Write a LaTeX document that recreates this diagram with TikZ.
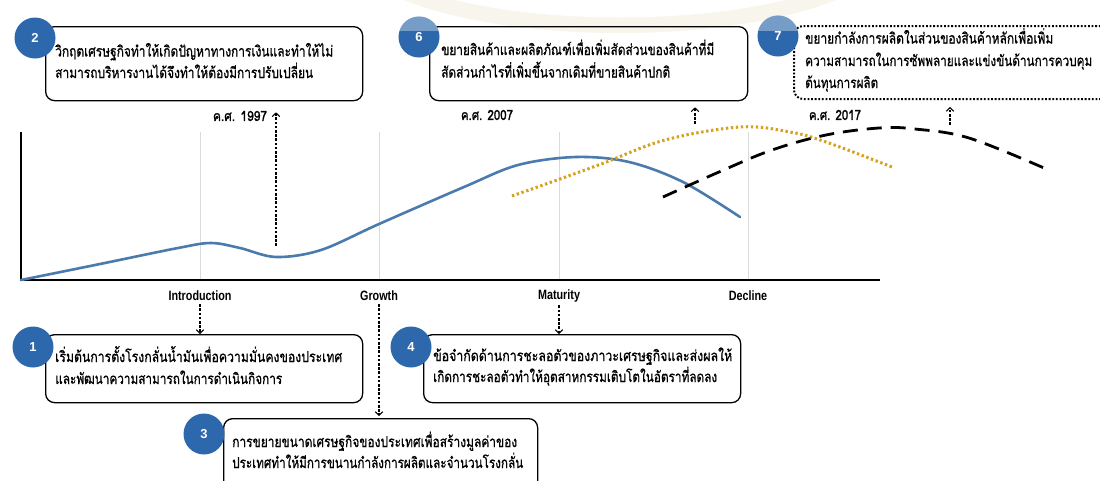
\documentclass[tikz,border=0pt]{standalone}
\usepackage{fontspec}
\usepackage{graphicx}
\setmainfont{Liberation Sans}
\newfontfamily\thaifont[Script=Thai,FakeBold=0.9]{Loma}
\newfontfamily\thaiheavy[Script=Thai,FakeBold=1.6]{Loma}
\newfontfamily\narrowfont[FakeStretch=0.8]{Liberation Sans}
\usetikzlibrary{arrows.meta}

\definecolor{curveblue}{HTML}{4A7BAC}
\definecolor{badgeblue}{HTML}{2D68AC}
\definecolor{gold}{HTML}{D6A21E}
\definecolor{gridgray}{HTML}{DADADA}
\definecolor{cream}{HTML}{F4EEDF}

% one line of Thai text, set to a given width
\newcommand{\tln}[2]{\resizebox{#1pt}{\height}{\fontsize{15}{18}\selectfont\thaifont #2}}
% a year label
\newcommand{\yr}[2]{\resizebox{#1pt}{\height}{\fontsize{14}{14}\selectfont\thaiheavy #2}}

\tikzset{
  box/.style={draw=black, line width=1.3pt, rounded corners=9pt, anchor=north west, inner sep=0pt},
  dotbox/.style={draw=black, line width=2pt, dash pattern=on 1.8pt off 1.8pt, rounded corners=9pt, anchor=north west, inner sep=0pt},
  badge/.style={circle, fill=badgeblue, minimum size=41pt, inner sep=0pt, text=white,
                font=\bfseries\fontsize{13}{13}\selectfont},
  txt/.style={anchor=base west, inner sep=0pt},
  stage/.style={inner sep=1pt, font=\narrowfont\bfseries\fontsize{13.5}{14}\selectfont},
  yearlbl/.style={inner sep=0pt},
  dasharrow/.style={draw=black, line width=1.2pt, dash pattern=on 2.6pt off 1.6pt,
                    -{Straight Barb[length=3.5pt,width=7.5pt,line width=1.1pt]}},
  axis/.style={draw=black, line width=1.2pt},
  gridline/.style={draw=gridgray, line width=1pt},
  maincurve/.style={draw=curveblue, line width=2.6pt, line cap=round},
  goldcurve/.style={draw=gold, line width=3pt, dash pattern=on 2.4pt off 2.6pt},
  blackcurve/.style={draw=black, line width=2.8pt, dash pattern=on 15pt off 9pt},
}

\begin{document}
\begin{tikzpicture}[x=1pt, y=-1pt]
\clip (0,0) rectangle (1100,480);
\fill[white] (0,0) rectangle (1100,480);

% faint emblem at the top edge
\draw[cream, line width=16pt, opacity=0.55] (620,-55) ellipse (265 and 80);
\draw[white, line width=5pt, opacity=0.9] (620,-55) ellipse (250 and 70);

% axes and stage grid
\coordinate (ytop) at (21,132);
\coordinate (origin) at (21,280);
\coordinate (xend) at (880,280);
\foreach \gx/\nm in {200/gi, 379/gg, 559/gm, 748/gd} {
  \coordinate (\nm top) at (\gx,132);
  \coordinate (\nm bot) at (\gx,280);
  \draw[gridline] (\nm top) -- (\nm bot);
}
\draw[axis] (ytop) -- (origin) -- (xend);

% life-cycle curves
\draw[maincurve] plot[smooth, tension=0.55] coordinates {
  (21,280) (100,264) (178,248) (211,243) (240,248) (276,257) (321,250)
  (379,224) (464,187) (518,165) (576,157) (629,162) (683,182) (740,217)};
\draw[goldcurve] plot[smooth, tension=0.6] coordinates {
  (512,196) (560,179) (604,163) (665,140) (740,127) (790,132) (826,142) (892,167)};
\draw[blackcurve] plot[smooth, tension=0.6] coordinates {
  (663,197) (719,172) (772,150) (826,135) (879,128) (915,129) (969,138) (1044,168)};

% stage labels
\node[stage] (lintro) at (200,296) {Introduction};
\node[stage] (lgrowth) at (379,296) {Growth};
\node[stage] (lmature) at (559,296) {Maturity};
\node[stage] (ldecline) at (748,296) {Decline};

% year labels
\node[yearlbl] (y1997) at (240,116) {\yr{54}{ค.ศ. 1997}};
\node[yearlbl] (y2007) at (487,115) {\yr{52}{ค.ศ. 2007}};
\node[yearlbl] (y2017) at (835,115) {\yr{52}{ค.ศ. 2017}};

% upper boxes
\node[box, minimum width=317pt, minimum height=74pt] (b2) at (45,26) {};
\node[box, minimum width=318pt, minimum height=74pt] (b6) at (429,26) {};
\node[dotbox, minimum width=330pt, minimum height=73pt] (b7) at (793,25) {};

\node[txt] (t2a) at (55,56.5) {\tln{278}{วิกฤตเศรษฐกิจทำให้เกิดปัญหาทางการเงินและทำให้ไม่}};
\node[txt] (t2b) at (55,78) {\tln{258}{สามารถบริหารงานได้จึงทำให้ต้องมีการปรับเปลี่ยน}};
\node[txt] (t6a) at (441,55) {\tln{273}{ขยายสินค้าและผลิตภัณฑ์เพื่อเพิ่มสัดส่วนของสินค้าที่มี}};
\node[txt] (t6b) at (441,77.5) {\tln{229}{สัดส่วนกำไรที่เพิ่มขึ้นจากเดิมที่ขายสินค้าปกติ}};
\node[txt] (t7a) at (805,43.5) {\tln{248}{ขยายกำลังการผลิตในส่วนของสินค้าหลักเพื่อเพิ่ม}};
\node[txt] (t7b) at (805,66) {\tln{287}{ความสามารถในการซัพพลายและแข่งขันด้านการควบคุม}};
\node[txt] (t7c) at (805,88) {\tln{73}{ต้นทุนการผลิต}};

% lower boxes
\node[box, minimum width=317pt, minimum height=68pt] (b1) at (45,334) {};
\node[box, minimum width=317pt, minimum height=68pt] (b4) at (423,334) {};
\node[box, minimum width=314pt, minimum height=90pt] (b3) at (223,418) {};

\node[txt] (t1a) at (55,362) {\tln{287}{เริ่มต้นการตั้งโรงกลั่นน้ำมันเพื่อความมั่นคงของประเทศ}};
\node[txt] (t1b) at (55,384) {\tln{227}{และพัฒนาความสามารถในการดำเนินกิจการ}};
\node[txt] (t4a) at (433,361) {\tln{299}{ข้อจำกัดด้านการชะลอตัวของภาวะเศรษฐกิจและส่งผลให้}};
\node[txt] (t4b) at (433,382) {\tln{284}{เกิดการชะลอตัวทำให้อุตสาหกรรมเติบโตในอัตราที่ลดลง}};
\node[txt] (t3a) at (232,447) {\tln{285}{การขยายขนาดเศรษฐกิจของประเทศเพื่อสร้างมูลค่าของ}};
\node[txt] (t3b) at (232,468) {\tln{291}{ประเทศทำให้มีการขนานกำลังการผลิตและจำนวนโรงกลั่น}};

% numbered badges
\node[badge] (n2) at (35,38) {2};
\node[badge] (n6) at (419,37) {6};
\node[badge] (n7) at (778,36) {7};
\node[badge] (n1) at (33,347) {1};
\node[badge] (n4) at (411,347) {4};
\node[badge] (n3) at (204,434) {3};
\begin{scope}
  \clip (380,0) rectangle (1100,30);
  \fill[white, opacity=0.35] (n6) circle (20.5);
  \fill[white, opacity=0.35] (n7) circle (20.5);
\end{scope}

% connectors from the curve up to the event boxes
\coordinate (c1997) at (276,246);
\coordinate (c2007) at (695,124);
\coordinate (c2017) at (950,125);
\draw[dasharrow, shorten >=11pt] (c1997) -- (c1997 |- b2.south);
\draw[dasharrow, shorten >=6pt] (c2007) -- (c2007 |- b6.south);
\draw[dasharrow, shorten >=7pt] (c2017) -- (c2017 |- b7.south);

% connectors from the stage labels down to the event boxes
\draw[dasharrow, shorten <=2pt] (lintro.south) -- (lintro.south |- b1.north);
\draw[dasharrow, shorten <=2pt, shorten >=2pt] (lgrowth.south) -- (lgrowth.south |- b3.north);
\draw[dasharrow, shorten <=2pt] (lmature.south) -- (lmature.south |- b4.north);
\end{tikzpicture}
\end{document}
